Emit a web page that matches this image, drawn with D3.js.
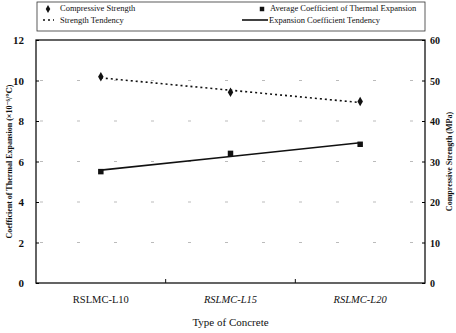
<!DOCTYPE html>
<html>
<head>
<meta charset="utf-8">
<script src="https://cdn.jsdelivr.net/npm/d3@7"></script>
<style>
body { margin: 0; background: #fff; }
svg text { font-family: "Liberation Serif", "DejaVu Serif", serif; fill: #111; }
</style>
</head>
<body>
<div id="chart"></div>
<script>
// chart data
var categories = ["RSLMC-L10", "RSLMC-L15", "RSLMC-L20"];
var thermalValues = [5.5, 6.4, 6.85];      // x10^-6 / C, left axis
var strengthValues = [50.9, 47.1, 44.8];   // MPa, right axis
var leftTicks = [0, 2, 4, 6, 8, 10, 12];
var rightTicks = [0, 10, 20, 30, 40, 50, 60];

var W = 456, H = 333;
var m = {l: 36, r: 31, t: 40, b: 50};

var svg = d3.select('#chart').append('svg')
    .attr('width', W).attr('height', H);

var x = d3.scaleBand().domain(categories).range([m.l, W - m.r]);
var yL = d3.scaleLinear().domain([0, 12]).range([H - m.b, m.t]);
var yR = d3.scaleLinear().domain([0, 60]).range([H - m.b, m.t]);

// least squares trend (the tendency lines)
function trend(vals) {
    var n = vals.length, mx = (n - 1) / 2, my = d3.mean(vals);
    var num = 0, den = 0;
    vals.forEach(function(v, i) { num += (i - mx) * (v - my); den += (i - mx) * (i - mx); });
    var s = num / den;
    return vals.map(function(v, i) { return my + s * (i - mx); });
}
function cx(d, i) { return x(categories[i]) + x.bandwidth() / 2; }

// faint broken grid lines (scanned look)
svg.append('g').selectAll('line')
    .data(leftTicks.slice(1, -1))
    .enter().append('line')
    .attr('x1', m.l + 4).attr('x2', W - m.r - 4)
    .attr('y1', function(d) { return yL(d); })
    .attr('y2', function(d) { return yL(d); })
    .style('stroke', '#bbb')
    .style('stroke-width', 1)
    .style('stroke-dasharray', '3,34');

// plot frame
svg.append('rect')
    .attr('x', m.l).attr('y', m.t)
    .attr('width', W - m.l - m.r).attr('height', H - m.t - m.b)
    .style('fill', 'none').style('stroke', '#111').style('stroke-width', 1.3);

// left axis
var gL = svg.append('g').attr('transform', 'translate(' + m.l + ',0)')
    .call(d3.axisRight(yL).tickValues(leftTicks).tickSize(3).tickFormat(''));
gL.select('.domain').remove();
svg.append('g').selectAll('text').data(leftTicks).enter().append('text')
    .attr('x', m.l - 12).attr('y', function(d) { return yL(d) + 4; })
    .attr('text-anchor', 'end')
    .style('font-size', '11px').style('font-weight', 'bold')
    .text(function(d) { return d; });

// right axis
var gR = svg.append('g').attr('transform', 'translate(' + (W - m.r) + ',0)')
    .call(d3.axisLeft(yR).tickValues(rightTicks).tickSize(3).tickFormat(''));
gR.select('.domain').remove();
svg.append('g').selectAll('text').data(rightTicks).enter().append('text')
    .attr('x', W - m.r + 5).attr('y', function(d) { return yR(d) + 4; })
    .attr('text-anchor', 'start')
    .style('font-size', '10px').style('font-weight', 'bold')
    .text(function(d) { return d; });

// bottom ticks at band boundaries
svg.append('g').selectAll('line')
    .data(categories.slice(1))
    .enter().append('line')
    .attr('x1', function(d) { return x(d); }).attr('x2', function(d) { return x(d); })
    .attr('y1', H - m.b).attr('y2', H - m.b - 4)
    .style('stroke', '#111');

svg.append('g').selectAll('text').data(categories).enter().append('text')
    .attr('x', function(d) { return x(d) + x.bandwidth() / 2; })
    .attr('y', H - m.b + 20)
    .attr('text-anchor', 'middle')
    .style('font-size', '10.5px')
    .style('font-style', function(d, i) { return i > 0 ? 'italic' : 'normal'; })
    .text(function(d) { return d; });

svg.append('text')
    .attr('x', (m.l + W - m.r) / 2).attr('y', H - 7)
    .attr('text-anchor', 'middle')
    .style('font-size', '11px')
    .text('Type of Concrete');

// axis titles
svg.append('text')
    .attr('transform', 'translate(12,' + ((m.t + H - m.b) / 2) + ') rotate(-90)')
    .attr('text-anchor', 'middle')
    .style('font-size', '8px').style('font-weight', 'bold')
    .text('Coefficient of Thermal Expansion (\u00d710\u207b\u2076/\u2103)');
svg.append('text')
    .attr('transform', 'translate(452,' + ((m.t + H - m.b) / 2) + ') rotate(-90)')
    .attr('text-anchor', 'middle')
    .style('font-size', '8px').style('font-weight', 'bold')
    .text('Compressive Strength (MPa)');

// lines
var lineL = d3.line().x(cx).y(function(d) { return yL(d); });
var lineR = d3.line().x(cx).y(function(d) { return yR(d); });

svg.append('path').datum(trend(thermalValues))
    .attr('d', lineL)
    .style('fill', 'none').style('stroke', '#111').style('stroke-width', 1.6);
svg.append('path').datum(trend(strengthValues))
    .attr('d', lineR)
    .style('fill', 'none').style('stroke', '#111').style('stroke-width', 1.6)
    .style('stroke-dasharray', '2,3');

// markers
var sym = d3.symbol();
svg.append('g').selectAll('path').data(thermalValues).enter().append('path')
    .attr('transform', function(d, i) { return 'translate(' + cx(d, i) + ',' + yL(d) + ')'; })
    .attr('d', sym.type(d3.symbolSquare).size(30))
    .style('fill', '#111');
svg.append('g').selectAll('path').data(strengthValues).enter().append('path')
    .attr('transform', function(d, i) { return 'translate(' + cx(d, i) + ',' + yR(d) + ')'; })
    .attr('d', d3.symbol().type(d3.symbolDiamond).size(26))
    .style('fill', '#111');

// legend
var lg = svg.append('g');
lg.append('rect').attr('x', 37).attr('y', 2).attr('width', 388).attr('height', 29)
    .style('fill', 'none').style('stroke', '#333').style('stroke-width', 0.8);
lg.append('path').attr('transform', 'translate(48,9)')
    .attr('d', d3.symbol().type(d3.symbolDiamond).size(18)).style('fill', '#111');
lg.append('line').attr('x1', 43).attr('x2', 54).attr('y1', 20).attr('y2', 20)
    .style('stroke', '#111').style('stroke-width', 1.6).style('stroke-dasharray', '2,3');
lg.append('path').attr('transform', 'translate(262,9)')
    .attr('d', d3.symbol().type(d3.symbolSquare).size(20)).style('fill', '#111');
lg.append('line').attr('x1', 242).attr('x2', 268).attr('y1', 20).attr('y2', 20)
    .style('stroke', '#111').style('stroke-width', 1.6);
var legendText = [
    {t: 'Compressive Strength', x: 60, y: 11},
    {t: 'Strength Tendency', x: 60, y: 23},
    {t: 'Average Coefficient of Thermal Expansion', x: 270, y: 11},
    {t: 'Expansion Coefficient Tendency', x: 269, y: 23}
];
lg.selectAll('text').data(legendText).enter().append('text')
    .attr('x', function(d) { return d.x; }).attr('y', function(d) { return d.y; })
    .style('font-size', '8.5px')
    .text(function(d) { return d.t; });
</script>
</body>
</html>
